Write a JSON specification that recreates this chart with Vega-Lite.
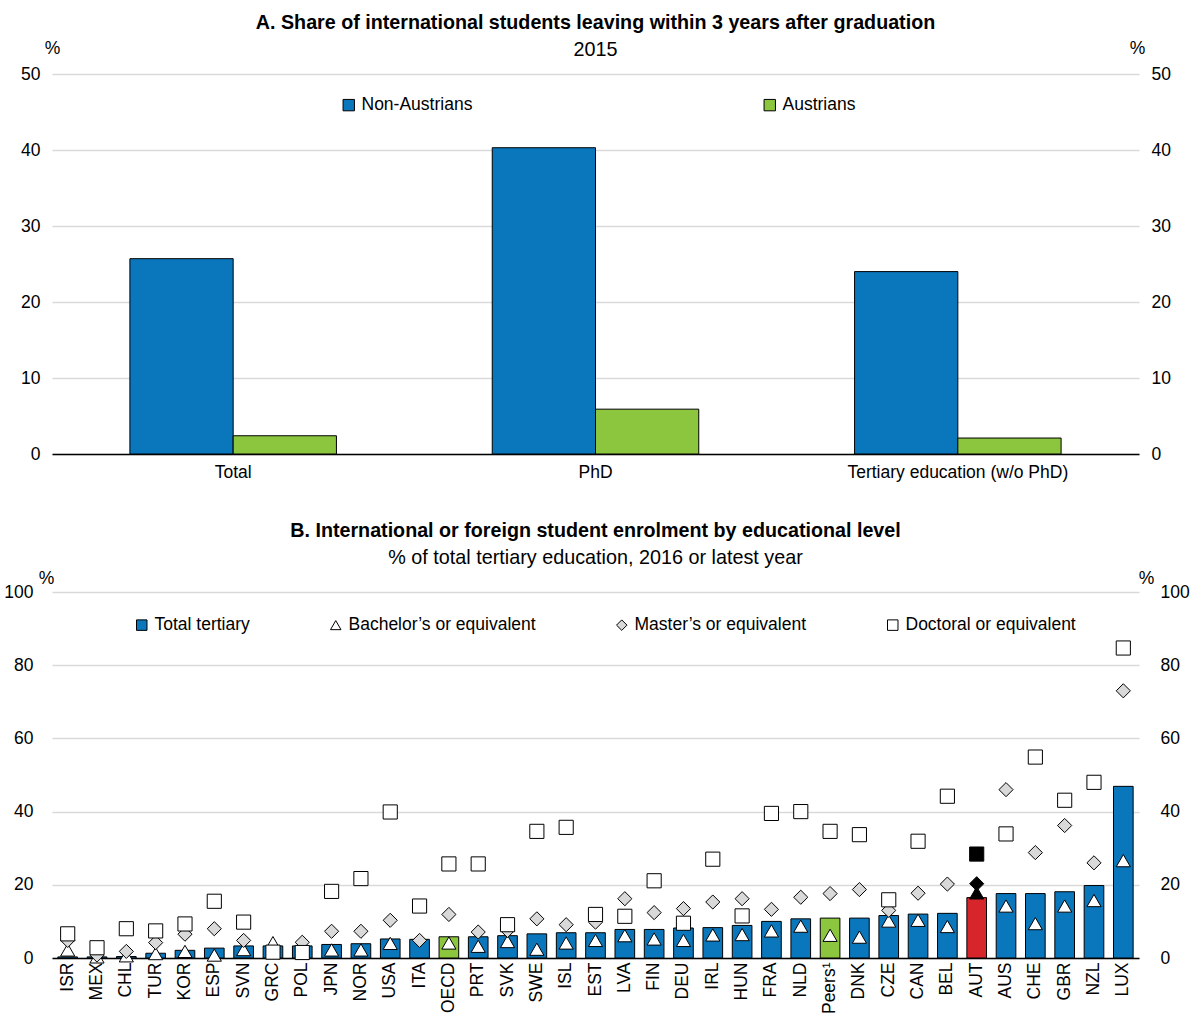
{
  "$schema": "https://vega.github.io/schema/vega-lite/v6.json",
  "padding": {"left": 3, "top": 12, "right": 8, "bottom": 2},
  "background": "white",
  "bounds": "flush",
  "spacing": 138,
  "resolve": {"scale": {"fill": "independent", "shape": "independent"}, "legend": {"fill": "independent", "shape": "independent"}},
  "config": {
    "font": "Liberation Sans, Arial, sans-serif",
    "view": {"stroke": null},
    "axis": {
      "labelFont": "Liberation Sans, Arial, sans-serif",
      "labelFontSize": 17.5,
      "labelColor": "#000000",
      "labelLimit": 400,
      "titleFont": "Liberation Sans, Arial, sans-serif",
      "titleFontSize": 17.5,
      "titleFontWeight": "normal",
      "titleColor": "#000000",
      "domain": false,
      "ticks": false,
      "grid": false
    },
    "legend": {
      "labelFont": "Liberation Sans, Arial, sans-serif",
      "labelFontSize": 17.5,
      "labelColor": "#000000",
      "labelLimit": 400
    },
    "title": {
      "font": "Liberation Sans, Arial, sans-serif",
      "fontSize": 19.7,
      "fontWeight": "bold",
      "color": "#000000",
      "subtitleFont": "Liberation Sans, Arial, sans-serif",
      "subtitleFontSize": 19.8,
      "subtitleColor": "#000000",
      "subtitlePadding": 8,
      "anchor": "middle",
      "frame": "group"
    }
  },
  "vconcat": [
    {
      "width": 1087,
      "height": 380,
      "title": {"text": "A. Share of international students leaving within 3 years after graduation", "subtitle": "2015", "offset": -21},
      "data": {"values": [
        {"category": "Total", "group": "Non-Austrians", "value": 25.7},
        {"category": "Total", "group": "Austrians", "value": 2.4},
        {"category": "PhD", "group": "Non-Austrians", "value": 40.3},
        {"category": "PhD", "group": "Austrians", "value": 5.9},
        {"category": "Tertiary education (w/o PhD)", "group": "Non-Austrians", "value": 24.0},
        {"category": "Tertiary education (w/o PhD)", "group": "Austrians", "value": 2.1}
      ]},
      "layer": [
        {
          "mark": {"type": "bar", "stroke": "#000000", "strokeWidth": 1},
          "encoding": {
            "x": {"field": "category", "type": "nominal", "sort": ["Total", "PhD", "Tertiary education (w/o PhD)"],
              "scale": {"paddingInner": 0.43, "paddingOuter": 0.215},
              "axis": {"title": null, "labelAngle": 0, "domain": true, "domainColor": "#000000", "domainWidth": 1.5, "labelPadding": 9}},
            "xOffset": {"field": "group", "type": "nominal", "sort": ["Non-Austrians", "Austrians"], "scale": {"paddingInner": 0, "paddingOuter": 0}},
            "y": {"field": "value", "type": "quantitative", "scale": {"domain": [0, 50]},
              "axis": {"values": [0, 10, 20, 30, 40, 50], "grid": true, "gridColor": "#d9d9d9", "gridWidth": 1.5,
                "title": "%", "titleAngle": 0, "titleX": 0, "titleY": -26, "titleAlign": "center", "titleBaseline": "middle", "labelPadding": 12}},
            "fill": {"field": "group", "type": "nominal",
              "scale": {"domain": ["Non-Austrians", "Austrians"], "range": ["#0a77bd", "#8cc63f"]},
              "legend": {"title": null, "orient": "none", "legendX": 288, "legendY": 22, "direction": "horizontal",
                "columnPadding": 288, "symbolType": "square", "symbolSize": 130, "symbolStrokeColor": "#000000", "symbolStrokeWidth": 1, "labelOffset": 4}}
          }
        },
        {
          "mark": {"type": "rule", "strokeOpacity": 0},
          "encoding": {
            "y": {"field": "value", "type": "quantitative",
              "axis": {"orient": "right", "values": [0, 10, 20, 30, 40, 50],
                "title": "%", "titleAngle": 0, "titleX": -2, "titleY": -26, "titleAlign": "center", "titleBaseline": "middle", "labelPadding": 12}}
          }
        }
      ],
      "resolve": {"axis": {"y": "independent"}}
    },
    {
      "width": 1087,
      "height": 366,
      "title": {"text": "B. International or foreign student enrolment by educational level", "subtitle": "% of total tertiary education,  2016 or latest year", "offset": 1},
      "data": {"values": [
        {"country": "ISR", "Total tertiary": 0.3, "Bachelor’s or equivalent": 2.2, "Master’s or equivalent": 4.8, "Doctoral or equivalent": 6.6},
        {"country": "MEX", "Total tertiary": 0.3, "Bachelor’s or equivalent": 0.3, "Master’s or equivalent": 0.8, "Doctoral or equivalent": 2.8},
        {"country": "CHL", "Total tertiary": 0.4, "Bachelor’s or equivalent": 0.6, "Master’s or equivalent": 1.8, "Doctoral or equivalent": 8.0},
        {"country": "TUR", "Total tertiary": 1.3, "Bachelor’s or equivalent": 1.2, "Master’s or equivalent": 4.2, "Doctoral or equivalent": 7.4},
        {"country": "KOR", "Total tertiary": 2.1, "Bachelor’s or equivalent": 1.8, "Master’s or equivalent": 6.5, "Doctoral or equivalent": 9.3},
        {"country": "ESP", "Total tertiary": 2.7, "Bachelor’s or equivalent": 0.8, "Master’s or equivalent": 8.0, "Doctoral or equivalent": 15.5},
        {"country": "SVN", "Total tertiary": 3.3, "Bachelor’s or equivalent": 2.3, "Master’s or equivalent": 4.8, "Doctoral or equivalent": 9.8},
        {"country": "GRC", "Total tertiary": 3.3, "Bachelor’s or equivalent": 4.2, "Master’s or equivalent": null, "Doctoral or equivalent": 1.6},
        {"country": "POL", "Total tertiary": 3.3, "Bachelor’s or equivalent": null, "Master’s or equivalent": 4.3, "Doctoral or equivalent": 1.5},
        {"country": "JPN", "Total tertiary": 3.7, "Bachelor’s or equivalent": 2.2, "Master’s or equivalent": 7.3, "Doctoral or equivalent": 18.2},
        {"country": "NOR", "Total tertiary": 3.9, "Bachelor’s or equivalent": 2.2, "Master’s or equivalent": 7.3, "Doctoral or equivalent": 21.7},
        {"country": "USA", "Total tertiary": 5.2, "Bachelor’s or equivalent": 4.0, "Master’s or equivalent": 10.3, "Doctoral or equivalent": 39.9},
        {"country": "ITA", "Total tertiary": 5.1, "Bachelor’s or equivalent": null, "Master’s or equivalent": 4.8, "Doctoral or equivalent": 14.2},
        {"country": "OECD", "Total tertiary": 5.8, "Bachelor’s or equivalent": 4.1, "Master’s or equivalent": 11.9, "Doctoral or equivalent": 25.7},
        {"country": "PRT", "Total tertiary": 5.8, "Bachelor’s or equivalent": 3.2, "Master’s or equivalent": 7.1, "Doctoral or equivalent": 25.7},
        {"country": "SVK", "Total tertiary": 6.1, "Bachelor’s or equivalent": 4.5, "Master’s or equivalent": 7.5, "Doctoral or equivalent": 9.1},
        {"country": "SWE", "Total tertiary": 6.6, "Bachelor’s or equivalent": 2.4, "Master’s or equivalent": 10.7, "Doctoral or equivalent": 34.6},
        {"country": "ISL", "Total tertiary": 6.9, "Bachelor’s or equivalent": 4.1, "Master’s or equivalent": 9.1, "Doctoral or equivalent": 35.7},
        {"country": "EST", "Total tertiary": 6.9, "Bachelor’s or equivalent": 4.8, "Master’s or equivalent": 9.8, "Doctoral or equivalent": 11.9},
        {"country": "LVA", "Total tertiary": 7.8, "Bachelor’s or equivalent": 6.1, "Master’s or equivalent": 16.2, "Doctoral or equivalent": 11.4},
        {"country": "FIN", "Total tertiary": 7.8, "Bachelor’s or equivalent": 5.2, "Master’s or equivalent": 12.4, "Doctoral or equivalent": 21.1},
        {"country": "DEU", "Total tertiary": 8.2, "Bachelor’s or equivalent": 4.8, "Master’s or equivalent": 13.5, "Doctoral or equivalent": 9.5},
        {"country": "IRL", "Total tertiary": 8.3, "Bachelor’s or equivalent": 6.3, "Master’s or equivalent": 15.3, "Doctoral or equivalent": 27.0},
        {"country": "HUN", "Total tertiary": 8.9, "Bachelor’s or equivalent": 6.4, "Master’s or equivalent": 16.2, "Doctoral or equivalent": 11.5},
        {"country": "FRA", "Total tertiary": 10.0, "Bachelor’s or equivalent": 7.4, "Master’s or equivalent": 13.3, "Doctoral or equivalent": 39.5},
        {"country": "NLD", "Total tertiary": 10.7, "Bachelor’s or equivalent": 8.7, "Master’s or equivalent": 16.6, "Doctoral or equivalent": 40.0},
        {"country": "Peers¹", "Total tertiary": 10.9, "Bachelor’s or equivalent": 6.2, "Master’s or equivalent": 17.6, "Doctoral or equivalent": 34.6},
        {"country": "DNK", "Total tertiary": 10.9, "Bachelor’s or equivalent": 5.7, "Master’s or equivalent": 18.7, "Doctoral or equivalent": 33.7},
        {"country": "CZE", "Total tertiary": 11.6, "Bachelor’s or equivalent": 10.1, "Master’s or equivalent": 13.0, "Doctoral or equivalent": 15.9},
        {"country": "CAN", "Total tertiary": 12.0, "Bachelor’s or equivalent": 10.3, "Master’s or equivalent": 17.7, "Doctoral or equivalent": 31.9},
        {"country": "BEL", "Total tertiary": 12.2, "Bachelor’s or equivalent": 8.6, "Master’s or equivalent": 20.2, "Doctoral or equivalent": 44.2},
        {"country": "AUT", "Total tertiary": 16.5, "Bachelor’s or equivalent": 17.8, "Master’s or equivalent": 20.3, "Doctoral or equivalent": 28.4},
        {"country": "AUS", "Total tertiary": 17.6, "Bachelor’s or equivalent": 14.2, "Master’s or equivalent": 46.0, "Doctoral or equivalent": 33.9},
        {"country": "CHE", "Total tertiary": 17.6, "Bachelor’s or equivalent": 9.4, "Master’s or equivalent": 28.8, "Doctoral or equivalent": 54.9},
        {"country": "GBR", "Total tertiary": 18.1, "Bachelor’s or equivalent": 14.2, "Master’s or equivalent": 36.2, "Doctoral or equivalent": 43.1},
        {"country": "NZL", "Total tertiary": 19.8, "Bachelor’s or equivalent": 15.7, "Master’s or equivalent": 26.0, "Doctoral or equivalent": 48.0},
        {"country": "LUX", "Total tertiary": 46.9, "Bachelor’s or equivalent": 26.6, "Master’s or equivalent": 73.0, "Doctoral or equivalent": 84.7}
      ]},
      "layer": [
        {
          "mark": {"type": "bar", "stroke": "#000000", "strokeWidth": 1},
          "encoding": {
            "x": {"field": "country", "type": "nominal", "sort": null,
              "scale": {"paddingInner": 0.33, "paddingOuter": 0.2},
              "axis": {"title": null, "labelAngle": -90, "domain": true, "domainColor": "#000000", "domainWidth": 1.5, "labelPadding": 4}},
            "y": {"field": "Total tertiary", "type": "quantitative", "scale": {"domain": [0, 100]},
              "axis": {"values": [0, 20, 40, 60, 80, 100], "grid": true, "gridColor": "#d9d9d9", "gridWidth": 1.5,
                "title": "%", "titleAngle": 0, "titleX": -6, "titleY": -14, "titleAlign": "center", "titleBaseline": "middle", "labelPadding": 19}},
            "fill": {
              "condition": [
                {"test": "datum.country === 'AUT'", "value": "#d7262b"},
                {"test": "datum.country === 'OECD' || datum.country === 'Peers¹'", "value": "#8cc63f"}
              ],
              "datum": "Total tertiary",
              "type": "nominal",
              "scale": {"domain": ["Total tertiary", "Bachelor’s or equivalent", "Master’s or equivalent", "Doctoral or equivalent"],
                "range": ["#0a77bd", "#ffffff", "#d9d9d9", "#ffffff"]},
              "legend": {"title": null, "orient": "none", "legendX": 81, "legendY": 24, "direction": "horizontal",
                "columnPadding": 77, "symbolSize": 110, "symbolStrokeColor": "#000000", "symbolStrokeWidth": 1, "labelOffset": 4}
            }
          }
        },
        {
          "transform": [{"fold": ["Bachelor’s or equivalent", "Master’s or equivalent", "Doctoral or equivalent"], "as": ["level", "value"]}],
          "mark": {"type": "point", "filled": true, "stroke": "#000000", "strokeWidth": 1, "opacity": 1, "size": 200},
          "encoding": {
            "x": {"field": "country", "type": "nominal", "sort": null},
            "y": {"field": "value", "type": "quantitative", "axis": null},
            "shape": {"field": "level", "type": "nominal",
              "scale": {"domain": ["Total tertiary", "Bachelor’s or equivalent", "Master’s or equivalent", "Doctoral or equivalent"],
                "range": ["square", "triangle-up", "diamond", "square"]},
              "legend": {"title": null, "orient": "none", "legendX": 81, "legendY": 24, "direction": "horizontal",
                "columnPadding": 77, "symbolSize": 110, "symbolStrokeColor": "#000000", "symbolStrokeWidth": 1, "labelOffset": 4}},
            "fill": {
              "condition": {"test": "datum.country === 'AUT'", "value": "#000000"},
              "field": "level", "type": "nominal",
              "scale": {"domain": ["Total tertiary", "Bachelor’s or equivalent", "Master’s or equivalent", "Doctoral or equivalent"],
                "range": ["#0a77bd", "#ffffff", "#d9d9d9", "#ffffff"]},
              "legend": {"title": null, "orient": "none", "legendX": 81, "legendY": 24, "direction": "horizontal",
                "columnPadding": 77, "symbolSize": 110, "symbolStrokeColor": "#000000", "symbolStrokeWidth": 1, "labelOffset": 4}
            }
          }
        },
        {
          "mark": {"type": "rule", "strokeOpacity": 0},
          "encoding": {
            "y": {"field": "Total tertiary", "type": "quantitative",
              "axis": {"orient": "right", "values": [0, 20, 40, 60, 80, 100],
                "title": "%", "titleAngle": 0, "titleX": 7, "titleY": -14, "titleAlign": "center", "titleBaseline": "middle", "labelPadding": 21}}
          }
        }
      ],
      "resolve": {"axis": {"y": "independent"}}
    }
  ]
}
